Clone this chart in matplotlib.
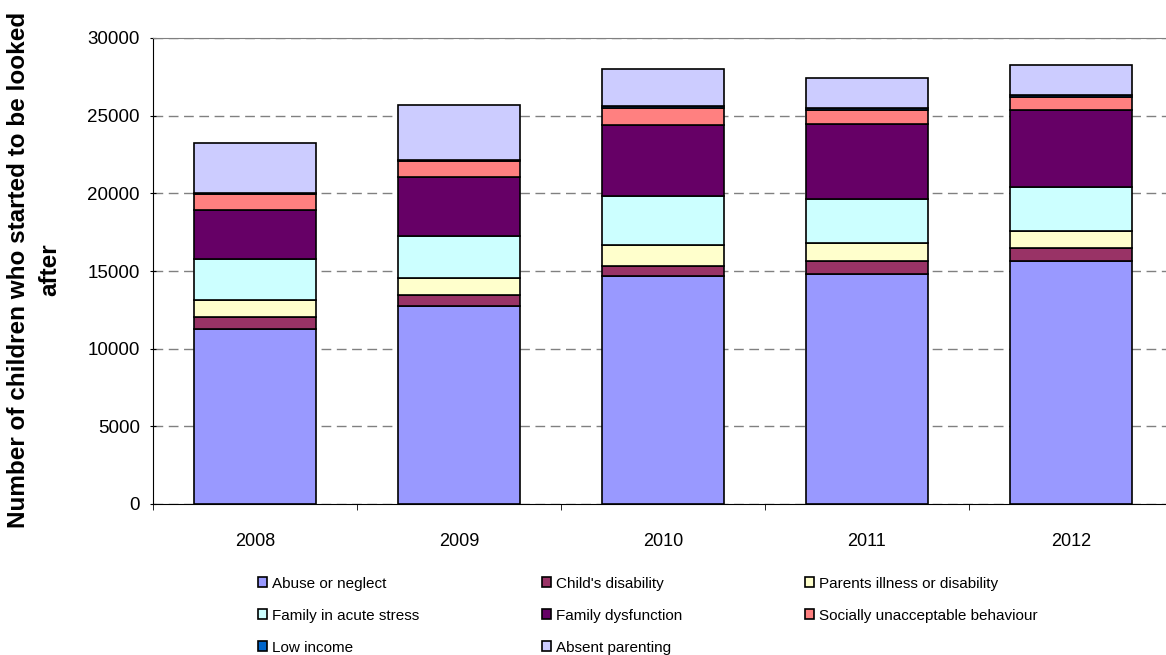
import matplotlib
matplotlib.use('Agg')
import matplotlib.pyplot as plt
import numpy as np

plt.rcParams['font.family'] = ['Liberation Sans', 'DejaVu Sans']

years = ['2008', '2009', '2010', '2011', '2012']

abuse = [11270, 12730, 14660, 14830, 15660]
child_disability = [790, 710, 680, 830, 800]
parents_illness = [1070, 1130, 1330, 1140, 1130]
acute_stress = [2640, 2700, 3160, 2810, 2840]
dysfunction = [3160, 3760, 4550, 4850, 4940]
socially = [1040, 1020, 1090, 920, 810]
low_income = [50, 100, 150, 120, 130]
absent = [3240, 3560, 2410, 1930, 1930]

series = [
    ('Abuse or neglect', abuse, '#9999FF'),
    ("Child's disability", child_disability, '#993366'),
    ('Parents illness or disability', parents_illness, '#FFFFCC'),
    ('Family in acute stress', acute_stress, '#CCFFFF'),
    ('Family dysfunction', dysfunction, '#660066'),
    ('Socially unacceptable behaviour', socially, '#FF8080'),
    ('Low income', low_income, '#0066CC'),
    ('Absent parenting', absent, '#CCCCFF'),
]

fig = plt.figure(figsize=(11.66, 6.55), dpi=100)
ax = fig.add_axes([153 / 1166, 151 / 655, 1020 / 1166, 466 / 655])

x = np.arange(len(years))
bottom = np.zeros(len(years))
handles = {}
for name, vals, color in series:
    b = ax.bar(x, vals, 0.6, bottom=bottom, color=color, edgecolor='black',
               linewidth=1.2, label=name, zorder=3)
    handles[name] = b
    bottom += np.array(vals)

ax.set_xlim(-0.5, 4.5)
ax.set_ylim(0, 30000)
ax.set_yticks(np.arange(0, 30001, 5000))
ax.yaxis.grid(True, color='#808080', linestyle=(0, (7, 4)), linewidth=1, zorder=0)
ax.set_xticks(x)
ax.set_xticklabels(years)
ax.set_xticks(np.arange(-0.5, 4.6, 1), minor=True)
ax.tick_params(axis='x', which='major', length=0, pad=21, labelsize=13)
ax.tick_params(axis='x', which='minor', length=4, direction='out', color='black')
ax.tick_params(axis='y', length=5, direction='inout', pad=7, labelsize=13.5)

ax.spines['right'].set_visible(False)
ax.spines['top'].set_color('#808080')
for s in ['left', 'bottom']:
    ax.spines[s].set_color('black')

fig.text(34 / 1166, 1 - 270 / 655, 'Number of children who started to be looked\nafter',
         rotation=90, ha='center', va='center', fontsize=17.5, fontweight='bold',
         multialignment='center', linespacing=1.42)

order = ['Abuse or neglect', 'Family in acute stress', 'Low income',
         "Child's disability", 'Family dysfunction', 'Absent parenting',
         'Parents illness or disability', 'Socially unacceptable behaviour']
fig.legend([handles[n] for n in order], order, ncol=3, frameon=False,
           loc='upper center', bbox_to_anchor=(648 / 1166, 1 - 569 / 655),
           fontsize=11, handlelength=0.6, handleheight=0.6, handletextpad=0.35,
           columnspacing=8.0, labelspacing=1.18, borderpad=0)

fig.savefig('out.png', dpi=100)
